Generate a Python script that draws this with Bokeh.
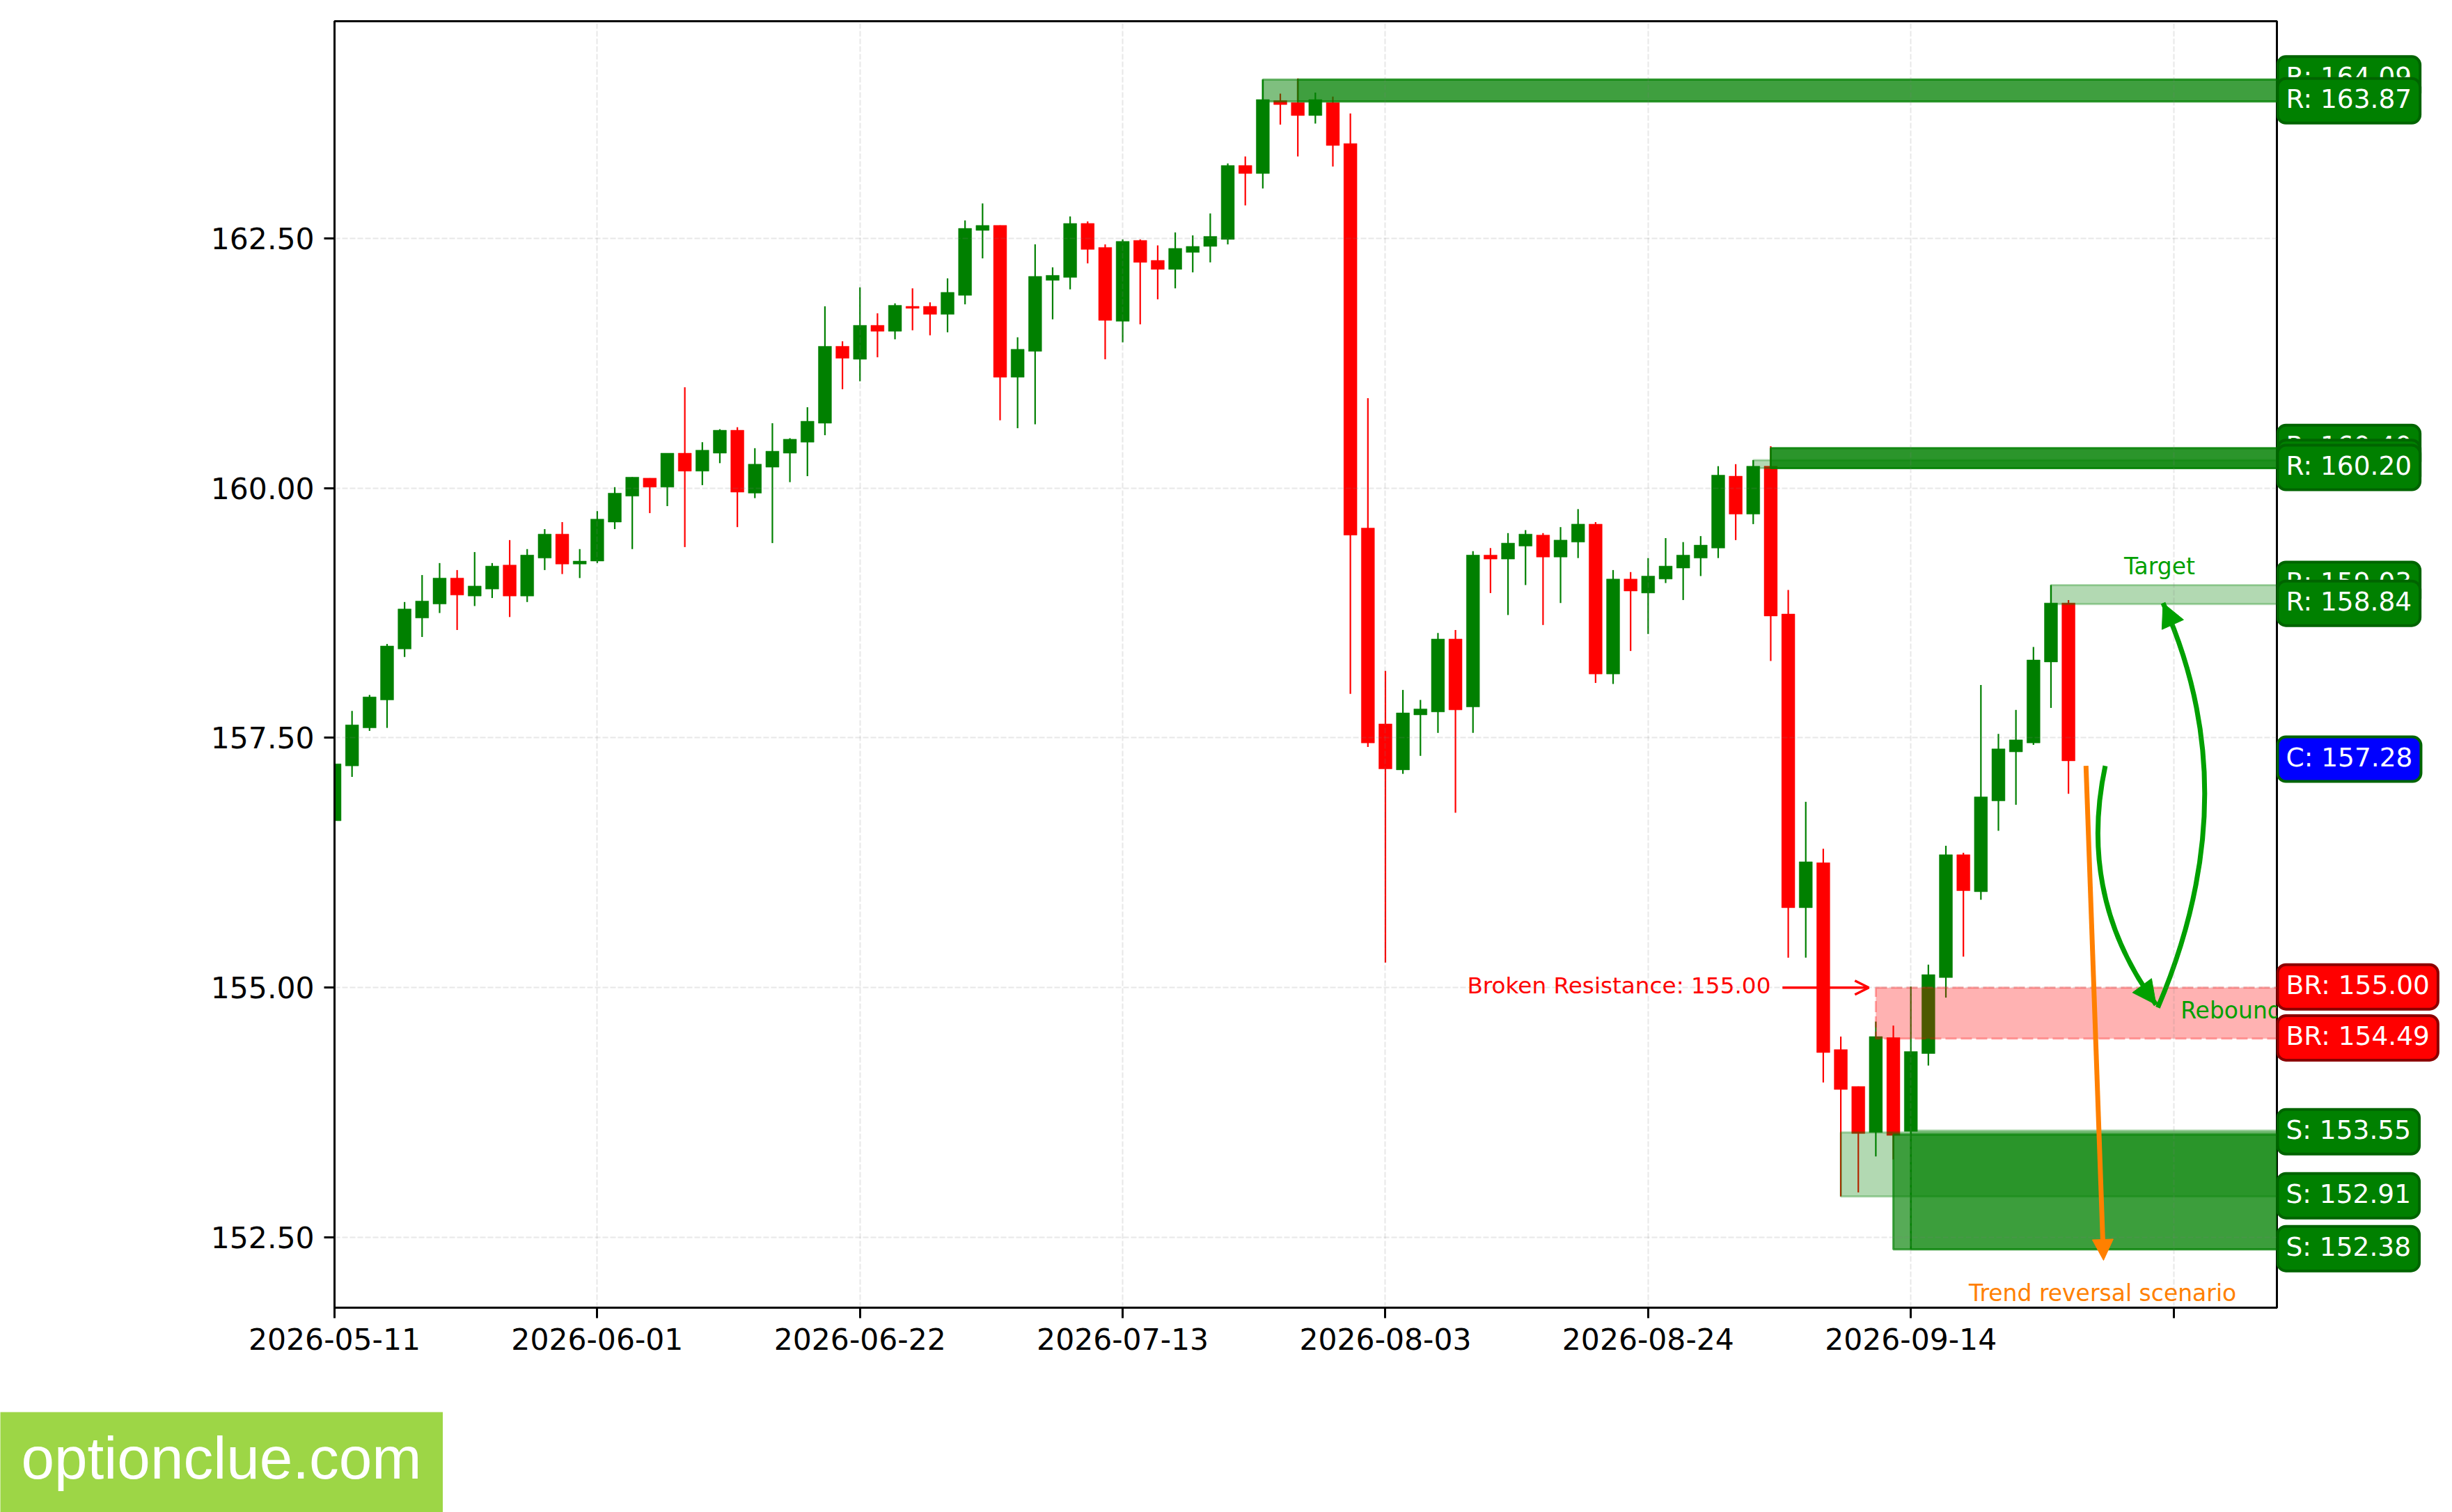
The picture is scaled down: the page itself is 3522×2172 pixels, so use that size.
from bokeh.plotting import figure
from bokeh.embed import file_html
from bokeh.resources import INLINE
from bokeh.core.properties import value
from bokeh.layouts import row, column
from bokeh.models import Range1d, FixedTicker, Label, Arrow, NormalHead, OpenHead

# --- candles -------------------------------------------------------------
opens = [156.67,157.22,157.60,157.88,158.39,158.70,158.84,159.10,158.92,158.99,
         159.23,158.92,159.30,159.54,159.24,159.27,159.66,159.92,160.10,160.01,
         160.35,160.17,160.35,160.58,159.95,160.21,160.35,160.46,160.65,161.42,
         161.29,161.63,161.57,161.82,161.82,161.74,161.93,162.58,162.63,161.11,
         161.37,162.08,162.11,162.65,162.41,161.67,162.48,162.28,162.19,162.36,
         162.42,162.49,163.23,163.15,163.88,163.86,163.73,163.86,163.45,159.60,
         157.64,157.18,157.73,157.76,158.49,157.81,159.33,159.29,159.42,159.53,
         159.31,159.46,159.64,158.14,159.09,158.95,159.09,159.20,159.30,159.40,
         160.12,159.74,160.22,158.74,155.80,156.25,154.38,154.01,153.55,154.50,
         153.56,154.34,155.10,156.33,155.96,156.87,157.36,157.45,158.26,158.85]
closes = [157.24,157.63,157.91,158.42,158.79,158.87,159.10,158.93,159.02,159.22,
          158.92,159.33,159.54,159.24,159.27,159.69,159.95,160.11,160.01,160.35,
          160.17,160.38,160.58,159.96,160.24,160.37,160.49,160.67,161.42,161.30,
          161.63,161.57,161.83,161.80,161.74,161.96,162.60,162.63,161.11,161.39,
          162.12,162.13,162.65,162.39,161.68,162.47,162.26,162.19,162.40,162.42,
          162.52,163.23,163.15,163.89,163.84,163.73,163.89,163.43,159.53,157.45,
          157.19,157.75,157.79,158.49,157.78,159.33,159.29,159.45,159.54,159.31,
          159.48,159.64,158.14,159.09,158.97,159.12,159.22,159.33,159.43,160.13,
          159.74,160.22,158.72,155.80,156.26,154.35,153.98,153.54,154.51,153.52,
          154.36,155.13,156.33,155.97,156.91,157.39,157.48,158.28,158.85,157.27]
highs = [157.24,157.77,157.93,158.44,158.86,159.13,159.25,159.18,159.36,159.25,
         159.48,159.39,159.59,159.66,159.39,159.77,160.01,160.11,160.10,160.35,
         161.01,160.46,160.59,160.61,160.40,160.65,160.50,160.81,161.82,161.47,
         162.01,161.75,161.85,162.00,161.86,162.10,162.68,162.85,162.63,161.51,
         162.44,162.21,162.72,162.67,162.44,162.49,162.49,162.43,162.56,162.53,
         162.75,163.25,163.32,164.09,163.95,164.10,163.96,163.92,163.75,160.90,
         158.17,157.98,157.88,158.55,158.58,159.37,159.40,159.55,159.58,159.55,
         159.61,159.79,159.66,159.18,159.16,159.30,159.50,159.46,159.52,160.22,
         160.24,160.28,160.42,158.98,156.86,156.39,154.51,154.01,154.66,154.62,
         155.01,155.23,156.42,156.35,158.03,157.54,157.78,158.41,159.03,158.88]
lows = [156.67,157.11,157.57,157.60,158.31,158.51,158.75,158.58,158.82,158.90,
        158.71,158.86,159.18,159.14,159.10,159.25,159.59,159.39,159.75,159.82,
        159.41,160.03,160.25,159.61,159.90,159.45,160.06,160.12,160.53,160.99,
        161.07,161.31,161.49,161.58,161.53,161.56,161.84,162.30,160.68,160.60,
        160.64,161.69,161.99,162.25,161.29,161.46,161.64,161.89,162.00,162.16,
        162.26,162.44,162.83,163.00,163.64,163.32,163.65,163.22,157.94,157.41,
        155.25,157.14,157.32,157.55,156.75,157.55,158.95,158.73,159.03,158.63,
        158.85,159.30,158.05,158.04,158.37,158.54,159.05,158.88,159.12,159.30,
        159.48,159.64,158.27,155.30,155.30,154.05,152.91,152.95,153.31,153.28,
        152.38,154.22,154.90,155.31,155.88,156.57,156.83,157.43,157.80,156.94]

# --- axes ----------------------------------------------------------------
x_ticks = [0, 15, 30, 45, 60, 75, 90, 105]
x_tick_labels = ["2026-05-11", "2026-06-01", "2026-06-22", "2026-07-13",
                 "2026-08-03", "2026-08-24", "2026-09-14", ""]
y_ticks = [152.5, 155.0, 157.5, 160.0, 162.5]
y_tick_labels = ["152.50", "155.00", "157.50", "160.00", "162.50"]
x_limits = (0, 110.9)
y_limits = (151.796, 164.674)

# --- zones: start index, bottom, top, alpha ------------------------------
zone_start = [53, 55, 81, 82, 98, 86, 89, 90]
zone_bottom = [163.87, 163.87, 160.20, 160.20, 158.84, 152.91, 152.38, 152.38]
zone_top = [164.09, 164.09, 160.28, 160.40, 159.03, 153.55, 153.53, 153.57]
zone_alpha = [0.5, 0.5, 0.3, 0.83, 0.3, 0.3, 0.66, 0.3]
br_start = [88]
br_bottom = [154.49]
br_top = [155.00]

# --- price tags ----------------------------------------------------------
tag_levels = [164.09, 163.87, 160.40, 160.25, 160.20, 159.03, 158.84,
              157.28, 155.00, 154.49, 153.55, 152.91, 152.38]
tag_texts = ["R: 164.09", "R: 163.87", "R: 160.40", "R: 160.25", "R: 160.20",
             "R: 159.03", "R: 158.84", "C: 157.28", "BR: 155.00", "BR: 154.49",
             "S: 153.55", "S: 152.91", "S: 152.38"]
tag_fill = ["green"] * 7 + ["blue"] + ["red"] * 2 + ["green"] * 3
tag_edge = ["#006400"] * 8 + ["#8b0000"] * 2 + ["#006400"] * 3

# --- scenario annotations ------------------------------------------------
down_curve = dict(x0=101.1, y0=157.22, cx=99.5, cy=155.9, x1=104.0, y1=154.83)
up_curve = dict(x0=104.1, y0=154.8, cx=109.3, cy=156.94, x1=104.4, y1=158.85)
reversal = dict(x0=100.0, y0=157.22, x1=101.0, y1=152.27)
broken_arrow = dict(x0=82.67, y0=155.0, x1=87.6, y1=155.0)

GREEN_A = "#00a000"
ORANGE = "#ff8000"

p = figure(width=3272, height=2028, output_backend="svg", toolbar_location=None,
           x_range=Range1d(*x_limits), y_range=Range1d(*y_limits),
           min_border_left=480, min_border_right=2, min_border_top=30,
           min_border_bottom=150, tools="")
p.background_fill_color = "white"
p.border_fill_color = "white"
p.outline_line_color = "black"
p.outline_line_width = 3
p.outline_line_alpha = 1

p.xaxis.ticker = FixedTicker(ticks=x_ticks)
p.yaxis.ticker = FixedTicker(ticks=y_ticks)
p.xaxis.major_label_overrides = dict(zip(x_ticks, x_tick_labels))
p.yaxis.major_label_overrides = dict(zip(y_ticks, y_tick_labels))
for ax in (p.xaxis[0], p.yaxis[0]):
    ax.major_tick_out = 15
    ax.major_tick_in = 0
    ax.minor_tick_out = 0
    ax.minor_tick_in = 0
    ax.major_tick_line_width = 3
    ax.major_tick_line_color = "black"
    ax.axis_line_width = 3
    ax.axis_line_color = "black"
    ax.major_label_text_font = "DejaVu Sans"
    ax.major_label_text_font_size = "42.5px"
    ax.major_label_text_color = "black"
    ax.major_label_standoff = 14

for g in (p.xgrid[0], p.ygrid[0]):
    g.grid_line_color = "#808080"
    g.grid_line_alpha = 0.18
    g.grid_line_width = 2
    g.grid_line_dash = "8 3"
    g.level = "annotation"

idx = list(range(len(opens)))
colors = ["green" if c >= o else "red" for o, c in zip(opens, closes)]
p.segment(idx, lows, idx, highs, line_color=colors, line_width=2.2)
p.vbar(x=idx, width=0.75, bottom=[min(a, b) for a, b in zip(opens, closes)],
       top=[max(a, b) for a, b in zip(opens, closes)], fill_color=colors,
       line_color=colors, line_width=0.5)

right_edge = [x_limits[1] + 2] * len(zone_start)
for s, b, t, a, r in zip(zone_start, zone_bottom, zone_top, zone_alpha, right_edge):
    p.quad(left=[s], right=[r], bottom=[b], top=[t], fill_color="green", fill_alpha=a,
           line_color="green", line_alpha=a, line_width=3)
p.quad(left=br_start, right=[x_limits[1] + 2], bottom=br_bottom, top=br_top,
       fill_color="red", fill_alpha=0.3, line_color="red", line_alpha=0.3,
       line_width=3, line_dash="16 6")

# curves with arrow heads
for c in (down_curve, up_curve):
    p.quadratic(x0=[c["x0"]], y0=[c["y0"]], x1=[c["x1"]], y1=[c["y1"]],
                cx=[c["cx"]], cy=[c["cy"]], line_color=GREEN_A, line_width=7)
    p.add_layout(Arrow(end=NormalHead(size=34, fill_color=GREEN_A, line_color=GREEN_A),
                       x_start=c["x1"] + 0.12 * (c["cx"] - c["x1"]),
                       y_start=c["y1"] + 0.12 * (c["cy"] - c["y1"]),
                       x_end=c["x1"], y_end=c["y1"],
                       line_color=GREEN_A, line_width=1, line_alpha=0))
p.add_layout(Arrow(end=NormalHead(size=30, fill_color=ORANGE, line_color=ORANGE),
                   x_start=reversal["x0"], y_start=reversal["y0"],
                   x_end=reversal["x1"], y_end=reversal["y1"],
                   line_color=ORANGE, line_width=7))
p.add_layout(Arrow(end=OpenHead(size=20, line_color="red", line_width=3.5),
                   x_start=broken_arrow["x0"], y_start=broken_arrow["y0"],
                   x_end=broken_arrow["x1"], y_end=broken_arrow["y1"],
                   line_color="red", line_width=3.5))

p.text(x=[104.2], y=[159.22], text=["Target"], text_color=GREEN_A, text_font=value("DejaVu Sans"),
       text_font_size="33px", text_align="center", text_baseline="middle")
p.text(x=[105.4], y=[154.77], text=["Rebound"], text_color=GREEN_A, text_font=value("DejaVu Sans"),
       text_font_size="33px", text_align="left", text_baseline="middle")
p.text(x=[100.95], y=[151.94], text=["Trend reversal scenario"], text_color=ORANGE,
       text_font=value("DejaVu Sans"), text_font_size="33px", text_align="center",
       text_baseline="middle")
p.text(x=[82.0], y=[155.02], text=["Broken Resistance: 155.00"], text_color="red",
       text_font=value("DejaVu Sans"), text_font_size="32.7px", text_align="right",
       text_baseline="middle")

# strip of price tags to the right of the main axes, sharing its y range
tags = figure(width=250, height=2028, output_backend="svg", toolbar_location=None, tools="",
              x_range=Range1d(0, 1), y_range=p.y_range, x_axis_type=None, y_axis_type=None,
              min_border_left=0, min_border_right=0, min_border_top=30, min_border_bottom=150,
              margin=(0, 0, 0, -3))
tags.background_fill_alpha = 0
tags.border_fill_alpha = 0
tags.outline_line_color = None
tags.grid.visible = False
for lvl, txt, f, e in zip(tag_levels, tag_texts, tag_fill, tag_edge):
    tags.add_layout(Label(x=2, x_units="canvas", y=lvl, y_offset=1, text=txt, text_color="white",
                          text_font="DejaVu Sans", text_font_size="37.5px", text_baseline="middle",
                          text_align="left", background_fill_color=f, background_fill_alpha=1,
                          border_line_color=e, border_line_width=4, border_radius=12,
                          padding=dict(left=12, right=12, top=7, bottom=13)))

# watermark strip under the chart
mark = figure(width=636, height=144, output_backend="svg", toolbar_location=None, tools="",
              x_range=Range1d(0, 636), y_range=Range1d(0, 144), x_axis_type=None, y_axis_type=None,
              min_border_left=0, min_border_right=0, min_border_top=0, min_border_bottom=0)
mark.background_fill_color = "#9dd646"
mark.border_fill_color = "#9dd646"
mark.outline_line_color = None
mark.grid.visible = False
mark.text(x=[30], y=[78], text=["optionclue.com"], text_color="white", text_font=value("Liberation Sans"),
          text_font_size="85.5px", text_align="left", text_baseline="middle")

layout = column(row(p, tags, spacing=0), mark, spacing=0)
open("out.html", "w").write(file_html(layout, INLINE))
